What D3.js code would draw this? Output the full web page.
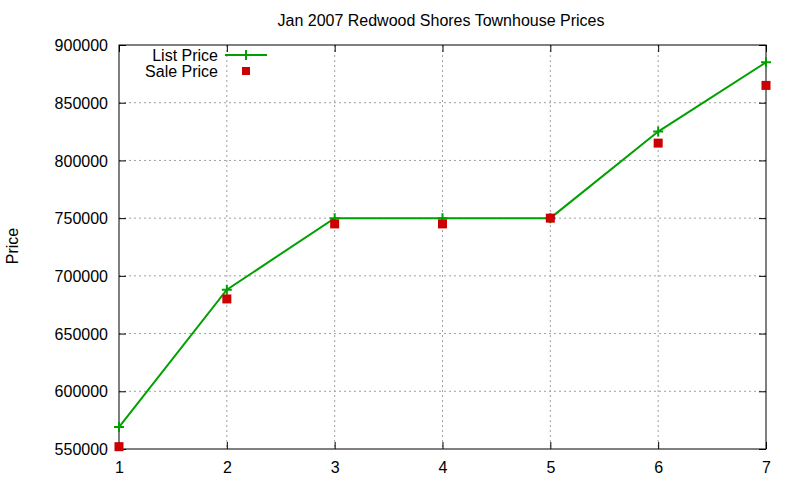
<!DOCTYPE html>
<html>
<head>
<meta charset="utf-8">
<script src="https://cdn.jsdelivr.net/npm/d3@7"></script>
<style>
  body { margin: 0; background: #fff; }
  text { font-family: "Liberation Sans", Arial, sans-serif; fill: #000; }
</style>
</head>
<body>
<svg id="chart" width="800" height="480"></svg>
<script>
const months = [1, 2, 3, 4, 5, 6, 7];
const listPrice = [569000, 688000, 750000, 750000, 750000, 825000, 885000];
const salePrice = [552000, 680000, 745000, 745000, 750000, 815000, 865000];
const yTicks = [550000, 600000, 650000, 700000, 750000, 800000, 850000, 900000];
const title = "Jan 2007 Redwood Shores Townhouse Prices";

const margin = { top: 45, right: 34, bottom: 31, left: 119 };
const width = 800 - margin.left - margin.right;
const height = 480 - margin.top - margin.bottom;

const svg = d3.select("#chart");
const g = svg.append("g").attr("transform", `translate(${margin.left},${margin.top})`);

const x = d3.scaleLinear().domain([1, 7]).range([0, width]);
const y = d3.scaleLinear().domain([550000, 900000]).range([height, 0]);

// grid
g.append("g")
    .selectAll("line.gx")
    .data(months.slice(1, -1))
    .join("line")
    .attr("x1", d => x(d)).attr("x2", d => x(d))
    .attr("y1", 0).attr("y2", height)
    .attr("stroke", "#a0a0a0").attr("stroke-dasharray", "2,3");
g.append("g")
    .selectAll("line.gy")
    .data(yTicks.slice(1, -1))
    .join("line")
    .attr("x1", 0).attr("x2", width)
    .attr("y1", d => y(d)).attr("y2", d => y(d))
    .attr("stroke", "#a0a0a0").attr("stroke-dasharray", "2,3");

// axes with inward ticks
const xAxis = g.append("g").attr("transform", `translate(0,${height})`)
    .call(d3.axisBottom(x).tickValues(months).tickFormat(d3.format("d")).tickSizeInner(-7).tickSizeOuter(0).tickPadding(13));
const xTop = g.append("g")
    .call(d3.axisTop(x).tickValues(months).tickFormat("").tickSizeInner(-7).tickSizeOuter(0));
const yAxis = g.append("g")
    .call(d3.axisLeft(y).tickValues(yTicks).tickFormat(d3.format("d")).tickSizeInner(-7).tickSizeOuter(0).tickPadding(11));
const yRight = g.append("g").attr("transform", `translate(${width},0)`)
    .call(d3.axisRight(y).tickValues(yTicks).tickFormat("").tickSizeInner(-7).tickSizeOuter(0));

[xAxis, xTop, yAxis, yRight].forEach(a => {
    a.select(".domain").remove();
    a.selectAll("line").attr("stroke", "#000");
    a.selectAll("text").style("font-size", "16px").attr("fill", "#000");
});
yAxis.selectAll("text").attr("dy", "0.35em");

g.append("rect")
    .attr("width", width).attr("height", height)
    .attr("fill", "none").attr("stroke", "#000").attr("stroke-width", 1);

// list price line
const green = "#00a000";
const red = "#cc0000";
const line = d3.line().x((d, i) => x(months[i])).y(d => y(d));
g.append("path")
    .datum(listPrice)
    .attr("d", line)
    .attr("fill", "none").attr("stroke", green).attr("stroke-width", 2);

g.selectAll("path.lp")
    .data(listPrice)
    .join("path")
    .attr("class", "lp")
    .attr("transform", (d, i) => `translate(${x(months[i])},${y(d)})`)
    .attr("d", "M-5,0H5M0,-5V5")
    .attr("stroke", green).attr("stroke-width", 2);

g.selectAll("rect.sp")
    .data(salePrice)
    .join("rect")
    .attr("class", "sp")
    .attr("x", (d, i) => x(months[i]) - 4.5)
    .attr("y", d => y(d) - 4.5)
    .attr("width", 9).attr("height", 9)
    .attr("fill", red);

// title and y label
svg.append("text")
    .attr("x", 441).attr("y", 26)
    .attr("text-anchor", "middle")
    .style("font-size", "16px")
    .text(title);

svg.append("text")
    .attr("transform", "translate(18,246) rotate(-90)")
    .attr("text-anchor", "middle")
    .style("font-size", "16px")
    .text("Price");

// legend
const legend = svg.append("g").attr("transform", "translate(218,55)");
legend.append("text").attr("x", 0).attr("y", 0).attr("dy", "0.35em")
    .attr("text-anchor", "end").style("font-size", "16px").text("List Price");
legend.append("line").attr("x1", 7).attr("x2", 49).attr("y1", 0).attr("y2", 0)
    .attr("stroke", green).attr("stroke-width", 2);
legend.append("path").attr("transform", "translate(28,0)").attr("d", "M-5,0H5M0,-5V5")
    .attr("stroke", green).attr("stroke-width", 2);
legend.append("text").attr("x", 0).attr("y", 16).attr("dy", "0.35em")
    .attr("text-anchor", "end").style("font-size", "16px").text("Sale Price");
legend.append("rect").attr("x", 24).attr("y", 12).attr("width", 8).attr("height", 8)
    .attr("fill", red);
</script>
</body>
</html>
